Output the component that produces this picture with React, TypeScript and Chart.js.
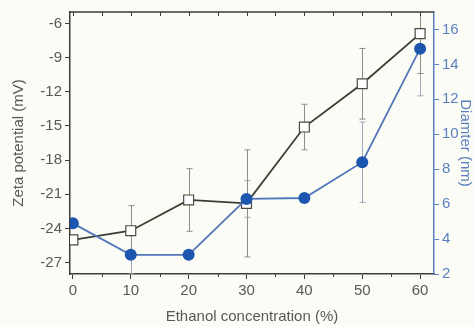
import React, { useEffect, useRef } from 'react';
import { Chart, registerables } from 'chart.js';

Chart.register(...registerables);

const concentrations = [0, 10, 20, 30, 40, 50, 60];
const zetaPotential = [-25.0, -24.2, -21.5, -21.8, -15.1, -11.3, -6.9];
const zetaError = [0, 2.2, 2.75, 4.7, 2.0, 3.1, 3.5];
const diameter = [4.9, 3.1, 3.1, 6.3, 6.35, 8.4, 14.9];
const diameterError = [0, 1.1, 0, 1.05, 0, 2.3, 2.7];
const xTicks = [0, 10, 20, 30, 40, 50, 60];
const xMinorTicks = [0, 5, 10, 15, 20, 25, 30, 35, 40, 45, 50, 55, 60];
const zetaTicks = [-27, -24, -21, -18, -15, -12, -9, -6];
const diameterTicks = [2, 4, 6, 8, 10, 12, 14, 16];

const BG = '#fcfcf6';
const DARK = '#3c3d36';
const BLUE_AXIS = '#5a7fbf';
const TEXT = '#585858';
const FONT = "'Liberation Sans', Arial, sans-serif";

const errorSets = [
  { values: diameter, errors: diameterError, axis: 'y2', color: '#a0a8b8' },
  { values: zetaPotential, errors: zetaError, axis: 'y', color: '#8e8e86' },
];

const framePlugin = {
  id: 'frame',
  beforeDraw(chart: any) {
    const ctx = chart.ctx;
    ctx.save();
    ctx.fillStyle = BG;
    ctx.fillRect(0, 0, chart.width, chart.height);
    ctx.restore();
  },
  beforeDatasetsDraw(chart: any) {
    const ctx = chart.ctx;
    const area = chart.chartArea;
    const xs = chart.scales.x;
    ctx.save();
    ctx.beginPath();
    ctx.rect(area.left, area.top, area.right - area.left, area.bottom - area.top);
    ctx.clip();
    ctx.lineWidth = 1;
    for (const set of errorSets) {
      const ys = chart.scales[set.axis];
      ctx.strokeStyle = set.color;
      concentrations.forEach((c, i) => {
        const e = set.errors[i];
        if (!e) return;
        const px = Math.round(xs.getPixelForValue(c)) + 0.5;
        const yTop = ys.getPixelForValue(set.values[i] + e);
        const yBot = ys.getPixelForValue(set.values[i] - e);
        ctx.beginPath();
        ctx.moveTo(px, yTop);
        ctx.lineTo(px, yBot);
        ctx.moveTo(px - 3, yTop);
        ctx.lineTo(px + 3, yTop);
        ctx.moveTo(px - 3, yBot);
        ctx.lineTo(px + 3, yBot);
        ctx.stroke();
      });
    }
    ctx.restore();
  },
  afterDraw(chart: any) {
    const ctx = chart.ctx;
    const area = chart.chartArea;
    const xs = chart.scales.x;
    ctx.save();
    ctx.strokeStyle = DARK;
    ctx.lineWidth = 1.5;
    ctx.beginPath();
    ctx.moveTo(area.left, area.top);
    ctx.lineTo(area.right, area.top);
    ctx.stroke();
    ctx.lineWidth = 1;
    ctx.beginPath();
    for (const v of xMinorTicks) {
      const px = Math.round(xs.getPixelForValue(v)) + 0.5;
      ctx.moveTo(px, area.top);
      ctx.lineTo(px, area.top + 4);
      if (v % 10 !== 0) {
        ctx.moveTo(px, area.bottom);
        ctx.lineTo(px, area.bottom + 3);
      }
    }
    ctx.stroke();
    ctx.restore();
  },
};

export default function App() {
  const canvasRef = useRef<HTMLCanvasElement>(null);

  useEffect(() => {
    if (!canvasRef.current) return;
    const chart = new Chart(canvasRef.current, {
      type: 'line',
      data: {
        datasets: [
          {
            label: 'Diameter (nm)',
            data: concentrations.map((c, i) => ({ x: c, y: diameter[i] })),
            yAxisID: 'y2',
            order: 0,
            borderColor: '#5077ba',
            borderWidth: 1.8,
            backgroundColor: '#1d56ae',
            pointBackgroundColor: '#1d56ae',
            pointBorderColor: '#1d56ae',
            pointRadius: 6,
            pointBorderWidth: 0,
            pointStyle: 'circle',
            tension: 0,
          },
          {
            label: 'Zeta potential (mV)',
            data: concentrations.map((c, i) => ({ x: c, y: zetaPotential[i] })),
            yAxisID: 'y',
            order: 1,
            borderColor: '#3b3d33',
            borderWidth: 1.8,
            backgroundColor: '#ffffff',
            pointBackgroundColor: '#ffffff',
            pointBorderColor: '#4a4a42',
            pointBorderWidth: 1.2,
            pointRadius: 7,
            pointStyle: 'rect',
            tension: 0,
          },
        ],
      },
      options: {
        responsive: false,
        animation: false,
        events: [],
        layout: { padding: { top: 11, left: 0, right: 0, bottom: 0 } },
        plugins: { legend: { display: false }, tooltip: { enabled: false } },
        scales: {
          x: {
            type: 'linear',
            position: 'bottom',
            min: -0.5,
            max: 62.4,
            afterBuildTicks: (s: any) => { s.ticks = xTicks.map((v) => ({ value: v })); },
            afterFit: (s: any) => { s.height = 52; },
            grid: { drawOnChartArea: false, drawTicks: true, tickLength: 5, tickColor: DARK, lineWidth: 1 },
            border: { display: true, color: DARK, width: 1.5 },
            ticks: { color: TEXT, font: { family: FONT, size: 15 }, padding: 3, maxRotation: 0, autoSkip: false },
            title: {
              display: true,
              text: 'Ethanol concentration (%)',
              color: TEXT,
              font: { family: FONT, size: 15 },
              padding: { top: 0, bottom: 0 },
            },
          },
          y: {
            type: 'linear',
            position: 'left',
            min: -28,
            max: -5,
            afterBuildTicks: (s: any) => { s.ticks = zetaTicks.map((v) => ({ value: v })); },
            afterFit: (s: any) => { s.width = 70; },
            grid: { drawOnChartArea: false, drawTicks: true, tickLength: 5, tickColor: DARK, lineWidth: 1 },
            border: { display: true, color: DARK, width: 1.5 },
            ticks: { color: TEXT, font: { family: FONT, size: 15 }, padding: 3, autoSkip: false },
            title: {
              display: true,
              text: 'Zeta potential (mV)',
              color: TEXT,
              font: { family: FONT, size: 15 },
              padding: { top: 10, bottom: 0 },
            },
          },
          y2: {
            type: 'linear',
            position: 'right',
            min: 2,
            max: 17,
            afterBuildTicks: (s: any) => { s.ticks = diameterTicks.map((v) => ({ value: v })); },
            afterFit: (s: any) => { s.width = 40; },
            grid: { drawOnChartArea: false, drawTicks: true, tickLength: 5, tickColor: BLUE_AXIS, lineWidth: 1 },
            border: { display: true, color: BLUE_AXIS, width: 1.5 },
            ticks: { color: BLUE_AXIS, font: { family: FONT, size: 15 }, padding: 3, autoSkip: false },
            title: {
              display: true,
              text: 'Diamter (nm)',
              color: BLUE_AXIS,
              font: { family: FONT, size: 15 },
              padding: { top: 0, bottom: 0 },
            },
          },
        },
      },
      plugins: [framePlugin],
    } as any);
    return () => chart.destroy();
  }, []);

  return (
    <div style={{ position: 'fixed', left: 0, top: 0, width: 474, height: 326, background: BG }}>
      <canvas ref={canvasRef} width={474} height={326} style={{ display: 'block', width: 474, height: 326 }} />
    </div>
  );
}
